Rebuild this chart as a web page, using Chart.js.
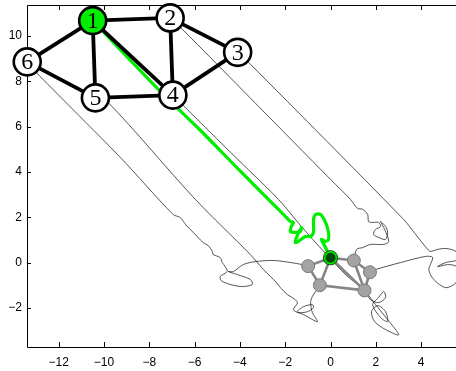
<!DOCTYPE html>
<html>
<head>
<meta charset="utf-8">
<script src="https://cdn.jsdelivr.net/npm/chart.js@4/dist/chart.umd.min.js"></script>
<style>
  html, body { margin: 0; padding: 0; background: #fff; }
  #wrap { width: 456px; height: 371px; }
</style>
</head>
<body>
<div id="wrap"><canvas id="c" width="456" height="371"></canvas></div>
<script>
// Axis ticks
const xTickValues = [-12, -10, -8, -6, -4, -2, 0, 2, 4];
const yTickValues = [-2, 0, 2, 4, 6, 8, 10];

// Initial formation (large graph)
const nodeX = [-10.50, -7.08, -4.10, -6.96, -10.38, -13.39];
const nodeY = [10.68, 10.80, 9.28, 7.39, 7.27, 8.86];
const nodeLabels = ['1', '2', '3', '4', '5', '6'];
const edges = [[1, 2], [1, 6], [1, 5], [1, 4], [2, 4], [2, 3], [3, 4], [4, 5], [5, 6]];

// Final formation (small graph)
const endX = [0.00, 1.03, 1.74, 1.50, -0.47, -0.99];
const endY = [0.21, 0.09, -0.43, -1.23, -1.00, -0.16];

// Agent trajectories, one per node
const path1 = [[-10.50, 10.68], [-7.39, 7.43], [-5.75, 5.84], [-3.98, 4.03], [-2.30, 2.35], [-1.95, 1.99],
  [-1.77, 1.81], [-1.64, 1.77], [-1.73, 1.59], [-1.77, 1.37], [-1.55, 1.33], [-1.33, 1.37], [-1.28, 1.55],
  [-1.50, 1.11], [-1.55, 0.88], [-1.42, 0.93], [-1.11, 1.15], [-0.88, 1.15], [-0.75, 1.33], [-0.75, 1.90],
  [-0.66, 2.12], [-0.44, 2.12], [-0.22, 1.77], [-0.09, 1.33], [-0.09, 1.02], [-0.22, 0.93], [-0.40, 1.02],
  [-0.22, 0.66], [0.00, 0.21]];
const path2 = [[-7.08, 10.80], [-6.64, 10.40], [0.00, 3.67], [0.88, 2.79], [1.19, 2.39], [1.42, 2.35],
  [1.64, 2.12], [1.68, 1.81], [1.86, 1.77], [2.12, 1.77], [2.21, 1.59], [1.99, 1.46], [1.90, 1.24],
  [2.12, 1.11], [2.43, 1.02], [2.52, 1.33], [2.43, 1.59], [2.21, 1.81], [2.39, 1.46], [2.57, 0.93],
  [2.35, 0.80], [1.77, 0.80], [1.42, 0.66], [1.15, 0.58], [1.03, 0.09]];
const path3 = [[-4.10, 9.28], [-3.54, 8.76], [3.23, 1.90], [3.76, 1.24], [4.29, 0.58], [4.42, 0.49],
  [4.73, 0.58], [5.09, 0.62], [5.53, 0.49], [5.62, 0.13], [5.09, 0.00], [4.73, -0.18], [5.22, -0.09],
  [5.62, -0.22], [5.58, -0.84], [5.09, -1.11], [4.56, -0.75], [4.34, -0.31], [4.51, 0.22], [4.20, 0.27],
  [3.10, 0.00], [1.99, -0.31], [1.74, -0.43]];
const path4 = [[-6.96, 7.39], [-4.42, 4.87], [-2.30, 2.79], [-1.33, 1.64], [-0.22, 0.40], [0.66, -0.53],
  [1.50, -1.24], [1.99, -1.86], [2.52, -2.52], [3.01, -3.19], [2.43, -2.96], [1.95, -2.61], [1.81, -2.17],
  [2.08, -1.90], [2.43, -2.17], [2.52, -2.61], [2.21, -2.43], [1.86, -1.86], [2.12, -1.55], [2.35, -1.28],
  [2.43, -1.55], [2.12, -1.77], [1.77, -1.64], [1.50, -1.23]];
const path5 = [[-10.38, 7.27], [-9.87, 7.12], [-5.97, 2.79], [-3.54, 0.35], [-2.96, -0.31], [-2.65, -0.62],
  [-2.39, -0.88], [-2.21, -1.11], [-1.90, -1.42], [-1.68, -1.55], [-1.46, -1.77], [-1.64, -2.08],
  [-1.42, -2.21], [-1.02, -2.17], [-0.75, -1.99], [-0.80, -1.86], [-1.19, -1.95], [-1.46, -2.17],
  [-1.19, -2.30], [-0.58, -2.61], [-0.80, -2.21], [-0.88, -1.77], [-0.80, -1.50], [-0.66, -1.28],
  [-0.47, -1.00]];
const path6 = [[-13.39, 8.86], [-12.92, 8.32], [-9.29, 4.65], [-6.95, 2.12], [-6.64, 1.99], [-6.37, 1.64],
  [-6.06, 1.33], [-5.62, 0.88], [-5.40, 0.75], [-5.22, 0.49], [-5.18, 0.35], [-4.87, 0.22], [-4.78, 0.00],
  [-4.65, -0.18], [-4.56, -0.40], [-4.87, -0.62], [-4.78, -0.84], [-3.98, -1.06], [-3.45, -0.97],
  [-3.54, -0.75], [-4.12, -0.53], [-4.51, -0.40], [-4.29, -0.40], [-3.85, -0.09], [-3.32, 0.04],
  [-2.52, 0.09], [-1.77, 0.00], [-1.24, -0.09], [-0.99, -0.16]];

const toPts = arr => arr.map(p => ({ x: p[0], y: p[1] }));
const fmt = v => (v < 0 ? '\u2212' + Math.abs(v) : String(v));

const datasets = [];

// big nodes (top-most)
datasets.push({
  data: nodeX.map((x, i) => ({ x, y: nodeY[i] })),
  showLine: false,
  pointRadius: 13.5,
  pointBorderWidth: 2.6,
  pointBorderColor: '#000',
  pointBackgroundColor: nodeX.map((_, i) => (i === 0 ? '#00ee00' : '#ffffff')),
  clip: false
});
// big edges
edges.forEach(([a, b]) => {
  datasets.push({
    data: [{ x: nodeX[a - 1], y: nodeY[a - 1] }, { x: nodeX[b - 1], y: nodeY[b - 1] }],
    showLine: true, borderColor: '#000', borderWidth: 3.8, pointRadius: 0, clip: false
  });
});
// small graph: leader node
datasets.push({
  data: [{ x: endX[0], y: endY[0] }],
  showLine: false, pointRadius: 6, pointBorderWidth: 2, pointBorderColor: '#00dd00',
  pointBackgroundColor: '#004a00'
});
datasets.push({
  data: [{ x: endX[0], y: endY[0] }],
  showLine: false, pointRadius: 7.5, pointBorderWidth: 0, pointBackgroundColor: '#000'
});
// small graph: follower nodes
datasets.push({
  data: endX.slice(1).map((x, i) => ({ x, y: endY[i + 1] })),
  showLine: false, pointRadius: 6.5, pointBorderWidth: 1, pointBorderColor: '#7a7a7a',
  pointBackgroundColor: '#a3a3a3'
});
// small graph edges
edges.forEach(([a, b]) => {
  datasets.push({
    data: [{ x: endX[a - 1], y: endY[a - 1] }, { x: endX[b - 1], y: endY[b - 1] }],
    showLine: true, borderColor: '#858585', borderWidth: 2.6, pointRadius: 0
  });
});
// leader trajectory
datasets.push({
  data: toPts(path1), showLine: true, borderColor: '#00ee00', borderWidth: 3.2,
  pointRadius: 0, tension: 0.3, borderJoinStyle: 'round', borderCapStyle: 'round'
});
// follower trajectories
[path2, path3, path4, path5, path6].forEach(p => {
  datasets.push({
    data: toPts(p), showLine: true, borderColor: 'rgba(20,20,20,0.9)', borderWidth: 0.8,
    pointRadius: 0, tension: 0.3
  });
});

// frame with inward tick marks
const framePlugin = {
  id: 'frame',
  beforeDatasetsDraw(chart) {
    const { ctx, chartArea: a, scales } = chart;
    ctx.save();
    ctx.strokeStyle = '#000';
    ctx.lineWidth = 1;
    ctx.beginPath();
    ctx.moveTo(a.right, a.top + 0.5); ctx.lineTo(a.left + 0.5, a.top + 0.5);
    ctx.lineTo(a.left + 0.5, a.bottom + 0.5); ctx.lineTo(a.right, a.bottom + 0.5);
    xTickValues.forEach(v => {
      const px = Math.round(scales.x.getPixelForValue(v)) + 0.5;
      ctx.moveTo(px, a.bottom); ctx.lineTo(px, a.bottom - 5);
      ctx.moveTo(px, a.top); ctx.lineTo(px, a.top + 5);
    });
    yTickValues.forEach(v => {
      const py = Math.round(scales.y.getPixelForValue(v)) + 0.5;
      ctx.moveTo(a.left, py); ctx.lineTo(a.left + 4, py);
    });
    ctx.stroke();
    ctx.restore();
  }
};

// node numbers
const labelPlugin = {
  id: 'nodeLabels',
  afterDatasetsDraw(chart) {
    const { ctx, scales } = chart;
    ctx.save();
    ctx.fillStyle = '#000';
    ctx.font = '24px "Liberation Serif", "DejaVu Serif", serif';
    ctx.textAlign = 'center';
    ctx.textBaseline = 'middle';
    nodeLabels.forEach((t, i) => {
      ctx.fillText(t, scales.x.getPixelForValue(nodeX[i]), scales.y.getPixelForValue(nodeY[i]) + 1);
    });
    ctx.restore();
  }
};

const tickFont = { family: '"Liberation Sans", Arial, sans-serif', size: 12 };
const noPad = s => { s.paddingLeft = 0; s.paddingRight = 0; s.paddingTop = 0; s.paddingBottom = 0; };

new Chart(document.getElementById('c'), {
  type: 'scatter',
  data: { datasets },
  plugins: [framePlugin, labelPlugin],
  options: {
    responsive: false,
    animation: false,
    devicePixelRatio: 1,
    layout: { autoPadding: false, padding: { top: 5, right: 0, left: 0, bottom: 0 } },
    plugins: { legend: { display: false }, tooltip: { enabled: false } },
    scales: {
      x: {
        type: 'linear', min: -13.40, max: 5.54,
        afterBuildTicks: s => { s.ticks = xTickValues.map(v => ({ value: v })); },
        afterFit: s => { s.height = 24; noPad(s); },
        grid: { display: false, drawTicks: false },
        border: { display: false },
        ticks: { color: '#000', font: tickFont, padding: 8, maxRotation: 0, autoSkip: false, callback: fmt }
      },
      y: {
        type: 'linear', min: -3.73, max: 11.37,
        afterBuildTicks: s => { s.ticks = yTickValues.map(v => ({ value: v })); },
        afterFit: s => { s.width = 27; noPad(s); },
        grid: { display: false, drawTicks: false },
        border: { display: false },
        ticks: { color: '#000', font: tickFont, padding: 5, autoSkip: false, callback: fmt }
      }
    }
  }
});
</script>
</body>
</html>
